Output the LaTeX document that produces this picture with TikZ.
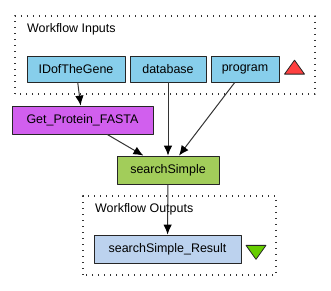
\documentclass[tikz,border=0pt]{standalone}
\usepackage{fontspec}
\setmainfont{Liberation Sans}
\usetikzlibrary{arrows.meta}
\usetikzlibrary{shapes}

\definecolor{inport}{HTML}{87CEEB}
\definecolor{outport}{HTML}{BCD2EE}
\definecolor{beanshell}{HTML}{D15FEE}
\definecolor{wsdl}{HTML}{A2CD5A}
\definecolor{intri}{HTML}{FF4040}
\definecolor{outtri}{HTML}{66CD00}

\tikzset{
  port/.style={draw=black!85,line width=0.8bp,rectangle,inner sep=0pt,minimum height=26bp,font=\fontsize{12.5}{14}\selectfont},
  proc/.style={port,minimum height=28bp},
  cluster/.style={draw=black!80,line width=1.3bp,dash pattern=on 1.3bp off 4.7bp},
  tri/.style={draw=black!85,line width=0.8bp,isosceles triangle,isosceles triangle stretches,inner sep=0pt,minimum width=20bp,minimum height=14bp},
  link/.style={black!80,line width=1bp,-{Latex[length=10bp,width=8.5bp,black]}},
}

\begin{document}
\begin{tikzpicture}[line join=bevel,font=\fontsize{12.5}{14}\selectfont]
\useasboundingbox (0bp,0bp) rectangle (331bp,291bp);
%% clusters
\draw [cluster] (15bp,197bp) rectangle (315bp,275bp);
\draw [cluster] (83bp,16bp) rectangle (276bp,95bp);
\node (lbl_in) at (27bp,262bp) [anchor=west,inner sep=0pt] {Workflow Inputs};
\node (lbl_out) at (95bp,82bp) [anchor=west,inner sep=0pt] {Workflow Outputs};
%% inputs
\node (node_0) at (76bp,222bp) [port,fill=inport,minimum width=98bp] {IDofTheGene};
  \node (node_1) at (168bp,222bp) [port,fill=inport,minimum width=76bp] {database};
  \node (node_2) at (245bp,222bp) [port,fill=inport,minimum width=68bp] {program};
  \node (tri_in) at (294.5bp,222bp) [tri,fill=intri,shape border rotate=90] {};
%% processors
\node (node_3) at (82.5bp,171bp) [proc,fill=beanshell,minimum width=141bp] {Get\_Protein\_FASTA};
  \node (node_4) at (168bp,121bp) [proc,fill=wsdl,minimum width=102bp] {searchSimple};
%% outputs
\node (node_5) at (167.5bp,42bp) [proc,fill=outport,minimum width=147bp] {searchSimple\_Result};
  \node (tri_out) at (256bp,40.5bp) [tri,fill=outtri,shape border rotate=270] {};
%% links
\draw [link] (node_0) -- (node_3);
  \draw [link] (node_3) -- (node_4);
  \draw [link] (node_1) -- (node_4);
  \draw [link] (node_2) -- (node_4);
  \draw [link] (node_4) -- (node_5);
%
\end{tikzpicture}
\end{document}
